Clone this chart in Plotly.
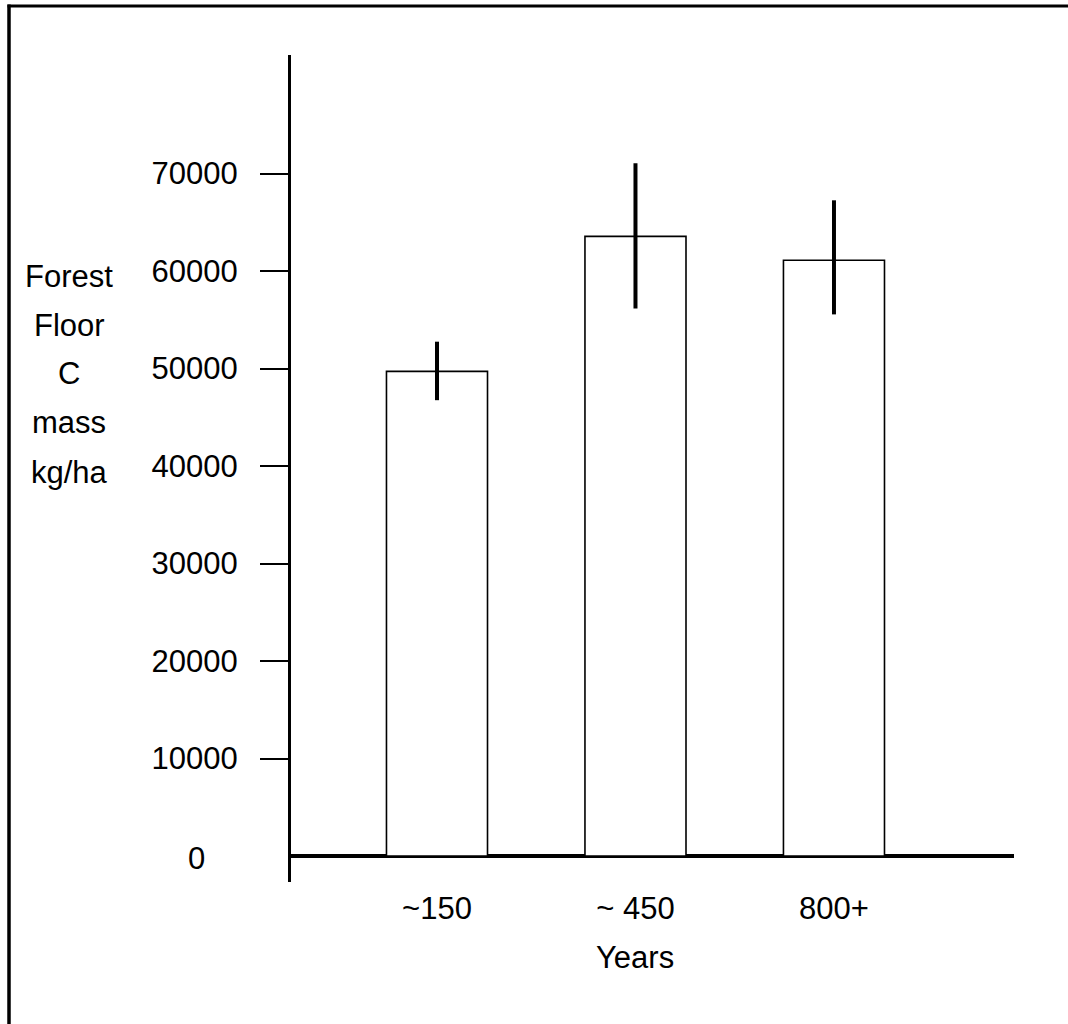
import plotly.graph_objects as go

categories = ["~150", "~ 450", "800+"]
means = [49700, 63550, 61100]
err_plus = [3050, 7500, 6150]
err_minus = [2950, 7400, 5550]
y_tickvals = [10000, 20000, 30000, 40000, 50000, 60000, 70000]
y_ticktext = ["10000", "20000", "30000", "40000", "50000", "60000", "70000"]
y_title_lines = ["Forest", "Floor", "C", "mass", "kg/ha"]
x_title = "Years"

W, H = 1068, 1024
L, R, T, B = 291, 1014, 55, 882  # plot area in pixels
pw, ph = R - L, B - T

def px(x):
    return (x - L) / pw

def py(y):
    return (B - y) / ph

FONT = "Liberation Sans, Arial, sans-serif"
FS = 31

fig = go.Figure()
fig.add_trace(go.Bar(
    x=categories, y=means, width=0.509,
    marker=dict(color="white", line=dict(color="black", width=1.6)),
    error_y=dict(type="data", array=err_plus, arrayminus=err_minus,
                 symmetric=False, color="black", thickness=4, width=0),
    showlegend=False,
))

annotations = []
line_ys = [276, 325, 373, 422, 472]
for txt, yy in zip(y_title_lines, line_ys):
    annotations.append(dict(text=txt, xref="paper", yref="paper", x=px(69), y=py(yy),
                            xanchor="center", yanchor="middle", showarrow=False,
                            font=dict(family=FONT, size=FS, color="black")))
annotations.append(dict(text=x_title, xref="paper", yref="paper", x=px(635), y=py(958),
                        xanchor="center", yanchor="middle", showarrow=False,
                        font=dict(family=FONT, size=FS, color="black")))
annotations.append(dict(text="0", xref="paper", yref="paper", x=px(196), y=py(858),
                        xanchor="center", yanchor="middle", showarrow=False,
                        font=dict(family=FONT, size=FS, color="black")))

frame = [
    dict(type="line", xref="paper", yref="paper", x0=px(9), x1=px(9), y0=py(4.5), y1=py(1030),
         line=dict(color="black", width=3.5), layer="above"),
    dict(type="line", xref="paper", yref="paper", x0=px(7.5), x1=px(1068), y0=py(6), y1=py(6),
         line=dict(color="black", width=3), layer="above"),
]

fig.update_layout(
    width=W, height=H,
    margin=dict(l=L, r=W - R, t=T, b=H - B, pad=0),
    paper_bgcolor="white", plot_bgcolor="white",
    font=dict(family=FONT, size=FS, color="black"),
    annotations=annotations,
    shapes=frame,
    xaxis=dict(type="category", range=[-0.7355, 2.907], showgrid=False, zeroline=False,
               showline=False, ticks="", ticklabelstandoff=5,
               tickfont=dict(family=FONT, size=FS, color="black")),
    yaxis=dict(range=[-2667, 82154], showgrid=False, zeroline=True, zerolinecolor="black",
               zerolinewidth=4, showline=True, linecolor="black", linewidth=3,
               ticks="outside", ticklen=28, tickwidth=1.5, tickcolor="black",
               tickvals=y_tickvals, ticktext=y_ticktext, ticklabelstandoff=16,
               tickfont=dict(family=FONT, size=FS, color="black")),
)

fig.write_html("out.html")
